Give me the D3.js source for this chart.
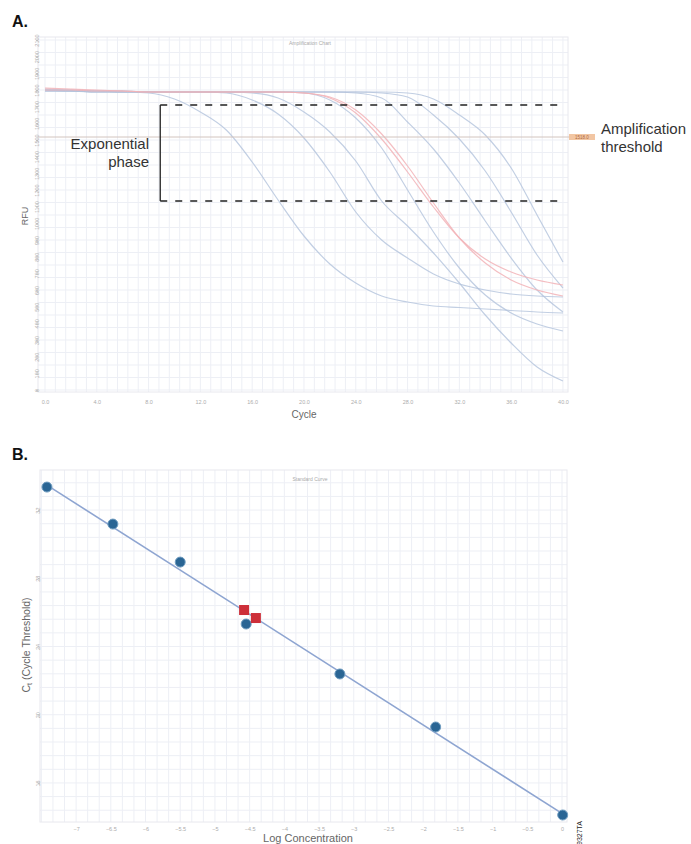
<!DOCTYPE html>
<html>
<head>
<meta charset="utf-8">
<script src="https://cdn.jsdelivr.net/npm/d3@7"></script>
<style>
  body { margin: 0; background: #fff; }
  svg { display: block; font-family: "Liberation Sans", Arial, sans-serif; }
  .axis .tick text { fill: #acacac; font-size: 5.5px; }
  .axis .tick line { stroke: #c8c8c8; }
  .axis .domain { display: none; }
</style>
</head>
<body>
<svg id="chart" width="691" height="844"></svg>
<script>
// ---------- A. amplification curves (RFU read every 2nd cycle) ----------
const cycles = [0, 2, 4, 6, 8, 10, 12, 14, 16, 18, 20, 22, 24, 26, 28, 30, 32, 34, 36, 38, 40];

const std1 = [1800, 1794, 1788, 1788, 1782, 1746, 1668, 1560, 1368, 1140, 924, 756, 642, 564, 528, 504, 495, 486, 477, 468, 462];
const std2 = [1806, 1800, 1794, 1794, 1788, 1788, 1788, 1782, 1740, 1656, 1512, 1308, 1068, 900, 792, 696, 636, 600, 576, 564, 558];
const std3 = [1794, 1794, 1788, 1788, 1788, 1788, 1788, 1788, 1782, 1752, 1668, 1548, 1374, 1134, 984, 822, 642, 450, 282, 138, 54];
const std4 = [1794, 1794, 1788, 1788, 1788, 1788, 1788, 1788, 1788, 1788, 1782, 1740, 1632, 1452, 1200, 948, 732, 570, 462, 396, 354];
const std5 = [1800, 1794, 1794, 1788, 1788, 1788, 1788, 1788, 1788, 1788, 1788, 1788, 1782, 1752, 1608, 1446, 1242, 1014, 792, 600, 468];
const std6 = [1800, 1800, 1794, 1794, 1788, 1788, 1788, 1788, 1788, 1788, 1788, 1788, 1788, 1782, 1758, 1650, 1506, 1314, 1068, 810, 612];
const std7 = [1794, 1794, 1794, 1788, 1788, 1788, 1788, 1788, 1788, 1788, 1788, 1788, 1788, 1788, 1782, 1746, 1650, 1530, 1332, 1050, 768];
const unk1 = [1812, 1806, 1800, 1794, 1788, 1788, 1788, 1788, 1788, 1788, 1782, 1752, 1662, 1506, 1308, 1098, 912, 786, 708, 660, 630];
const unk2 = [1800, 1800, 1794, 1794, 1788, 1788, 1788, 1788, 1788, 1788, 1782, 1758, 1680, 1536, 1344, 1122, 912, 762, 660, 600, 564];

const thresholdRfu = 1518;
const phaseTop = 1710, phaseBottom = 1134, phaseStart = 8.9, phaseEnd = 40.15;

const cycleTicks = [0, 4, 8, 12, 16, 20, 24, 28, 32, 36, 40];
const rfuTicks = [0, 100, 200, 300, 400, 500, 600, 700, 800, 900, 1000, 1100, 1200, 1300, 1400, 1500, 1600, 1700, 1800, 1900, 2000, 2100];

// ---------- B. standard curve ----------
const stdLogConc = [-7.42, -6.47, -5.50, -4.55, -3.20, -1.82, 0.01];
const stdCt      = [33.35, 31.18, 28.95, 25.32, 22.39, 19.28, 14.12];
const unkLogConc = [-4.58, -4.41];
const unkCt      = [26.14, 25.67];

const logTicks = [-7, -6.5, -6, -5.5, -5, -4.5, -4, -3.5, -3, -2.5, -2, -1.5, -1, -0.5, 0];
const ctTicks = [16, 20, 24, 28, 32];


const svg = d3.select("#chart");
svg.append("rect").attr("width", 691).attr("height", 844).attr("fill", "#fff");

function panelLetter(txt, y) {
    svg.append("text")
       .attr("x", 12).attr("y", y)
       .attr("font-family", "'Liberation Sans Narrow', 'Arial Narrow', sans-serif")
       .attr("font-weight", "bold").attr("font-size", 16).attr("fill", "#111")
       .text(txt);
}

// ======================= panel A =======================
panelLetter("A.", 26.5);

const xA = d3.scaleLinear().domain([-0.54, 40.39]).range([38, 568]);
const yA = d3.scaleLinear().domain([-12, 2118]).range([392, 37]);
const gA = svg.append("g");

// grid
gA.append("g").selectAll("line")
  .data(d3.range(0, 40.01, 0.8))
  .join("line")
  .attr("x1", d => xA(d)).attr("x2", d => xA(d))
  .attr("y1", yA.range()[1]).attr("y2", yA.range()[0])
  .attr("stroke", "#edeff5");
gA.append("g").selectAll("line")
  .data(d3.range(0, 2118, 75))
  .join("line")
  .attr("x1", xA.range()[0]).attr("x2", xA.range()[1])
  .attr("y1", d => yA(d)).attr("y2", d => yA(d))
  .attr("stroke", "#edeff5");
gA.append("rect")
  .attr("x", 38).attr("y", 37).attr("width", 530).attr("height", 355)
  .attr("fill", "none").attr("stroke", "#e8e8ee");

gA.append("text")
  .attr("x", 310).attr("y", 45).attr("text-anchor", "middle")
  .attr("font-size", 5).attr("fill", "#aaa")
  .text("Amplification Chart");

// axes
gA.append("g").attr("class", "axis")
  .attr("transform", "translate(0," + yA.range()[0] + ")")
  .call(d3.axisBottom(xA).tickValues(cycleTicks).tickSize(0).tickPadding(8).tickFormat(d3.format(".1f")));

const yAxisA = gA.append("g").attr("class", "axis")
  .attr("transform", "translate(" + xA.range()[0] + ",0)")
  .call(d3.axisLeft(yA).tickValues(rfuTicks).tickSize(2).tickFormat(d3.format("d")));
yAxisA.selectAll(".tick text")
  .attr("x", null).attr("dy", null)
  .attr("text-anchor", "middle")
  .attr("transform", "translate(1,0) rotate(-90)");

gA.append("text")
  .attr("transform", "translate(28,216) rotate(-90)")
  .attr("text-anchor", "middle").attr("font-size", 9).attr("fill", "#666")
  .text("RFU");
gA.append("text")
  .attr("x", 304).attr("y", 418).attr("text-anchor", "middle")
  .attr("font-size", 10).attr("fill", "#666")
  .text("Cycle");

// curves
const curveLine = d3.line()
    .x((d, i) => xA(cycles[i]))
    .y(d => yA(d))
    .curve(d3.curveMonotoneX);

const blueRuns = [std1, std2, std3, std4, std5, std6, std7];
const redRuns = [unk1, unk2];

gA.append("g").selectAll("path")
  .data(blueRuns)
  .join("path")
  .attr("d", curveLine)
  .attr("fill", "none").attr("stroke", "#b3c3dc")
  .attr("stroke-width", 1.2).attr("opacity", 0.8);
gA.append("g").selectAll("path")
  .data(redRuns)
  .join("path")
  .attr("d", curveLine)
  .attr("fill", "none").attr("stroke", "#f2b3b7")
  .attr("stroke-width", 1.2).attr("opacity", 0.85);

// threshold
gA.append("line")
  .attr("x1", xA.range()[0]).attr("x2", 569)
  .attr("y1", yA(thresholdRfu)).attr("y2", yA(thresholdRfu))
  .attr("stroke", "#d2c4be").attr("stroke-width", 1);
gA.append("rect")
  .attr("x", 569).attr("y", yA(thresholdRfu) - 3).attr("width", 26).attr("height", 6)
  .attr("fill", "#f2c6a3");
gA.append("text")
  .attr("x", 582).attr("y", yA(thresholdRfu) + 1.8).attr("text-anchor", "middle")
  .attr("font-size", 4.5).attr("fill", "#b0683e")
  .text(thresholdRfu.toFixed(1));

// exponential phase bracket
const ann = gA.append("g").attr("stroke", "#222").attr("stroke-width", 1.3).attr("fill", "none");
[phaseTop, phaseBottom].forEach(v => {
    ann.append("line")
       .attr("x1", xA(phaseStart)).attr("x2", xA(phaseEnd))
       .attr("y1", yA(v)).attr("y2", yA(v))
       .attr("stroke-dasharray", "7,8");
});
ann.append("line")
   .attr("x1", xA(phaseStart)).attr("x2", xA(phaseStart))
   .attr("y1", yA(phaseTop)).attr("y2", yA(phaseBottom));

const noteFont = 15;
gA.append("text")
  .attr("x", 149).attr("y", 149).attr("text-anchor", "end")
  .attr("font-size", noteFont).attr("fill", "#333")
  .text("Exponential");
gA.append("text")
  .attr("x", 149).attr("y", 167).attr("text-anchor", "end")
  .attr("font-size", noteFont).attr("fill", "#333")
  .text("phase");
gA.append("text")
  .attr("x", 601).attr("y", 134)
  .attr("font-size", noteFont).attr("fill", "#333")
  .text("Amplification");
gA.append("text")
  .attr("x", 601).attr("y", 152)
  .attr("font-size", noteFont).attr("fill", "#333")
  .text("threshold");


// ======================= panel B =======================
panelLetter("B.", 460);

const xB = d3.scaleLinear().domain([-7.52, 0.072]).range([40, 567]);
const yB = d3.scaleLinear().domain([13.71, 34.35]).range([822, 470]);
const gB = svg.append("g");

gB.append("g").selectAll("line")
  .data(d3.range(-45, 1).map(k => k / 6))
  .join("line")
  .attr("x1", d => xB(d)).attr("x2", d => xB(d))
  .attr("y1", yB.range()[1]).attr("y2", yB.range()[0])
  .attr("stroke", "#edeff5");
gB.append("g").selectAll("line")
  .data(d3.range(14.4, 34.35, 0.8))
  .join("line")
  .attr("x1", xB.range()[0]).attr("x2", xB.range()[1])
  .attr("y1", d => yB(d)).attr("y2", d => yB(d))
  .attr("stroke", "#edeff5");
gB.append("rect")
  .attr("x", 40).attr("y", 470).attr("width", 527).attr("height", 352)
  .attr("fill", "none").attr("stroke", "#e8e8ee");

gB.append("text")
  .attr("x", 310).attr("y", 481).attr("text-anchor", "middle")
  .attr("font-size", 5).attr("fill", "#aaa")
  .text("Standard Curve");

gB.append("g").attr("class", "axis")
  .attr("transform", "translate(0," + yB.range()[0] + ")")
  .call(d3.axisBottom(xB).tickValues(logTicks).tickSize(0).tickPadding(5)
        .tickFormat(d => Number.isInteger(d) ? d3.format("d")(d) : d3.format(".1f")(d)));

const yAxisB = gB.append("g").attr("class", "axis")
  .attr("transform", "translate(" + xB.range()[0] + ",0)")
  .call(d3.axisLeft(yB).tickValues(ctTicks).tickSize(2));
yAxisB.selectAll(".tick text")
  .attr("x", null).attr("dy", null)
  .attr("text-anchor", "middle")
  .attr("transform", "translate(0,0) rotate(-90)");

const ctLabel = gB.append("text")
  .attr("transform", "translate(30,645) rotate(-90)")
  .attr("text-anchor", "middle").attr("font-size", 10.5).attr("fill", "#666");
ctLabel.append("tspan").text("C");
ctLabel.append("tspan").attr("font-size", 7).attr("dy", 2).text("t");
ctLabel.append("tspan").attr("dy", -2).text(" (Cycle Threshold)");

gB.append("text")
  .attr("x", 308).attr("y", 842).attr("text-anchor", "middle")
  .attr("font-size", 11).attr("fill", "#666")
  .text("Log Concentration");

// regression line through the standards
const mx = d3.mean(stdLogConc), my = d3.mean(stdCt);
const slope = d3.sum(stdLogConc, (x, i) => (x - mx) * (stdCt[i] - my)) /
              d3.sum(stdLogConc, x => (x - mx) * (x - mx));
const icpt = my - slope * mx;
const xExt = d3.extent(stdLogConc);

gB.append("path")
  .attr("d", d3.line()(xExt.map(x => [xB(x), yB(icpt + slope * x)])))
  .attr("stroke", "#8ea5d1").attr("stroke-width", 1.6).attr("fill", "none");

// standards
gB.append("g").selectAll("circle")
  .data(stdLogConc)
  .join("circle")
  .attr("cx", d => xB(d))
  .attr("cy", (d, i) => yB(stdCt[i]))
  .attr("r", 5)
  .attr("fill", "#2a6594")
  .attr("stroke", "#6f9cc0").attr("stroke-width", 1);

// unknowns
const sq = 10;
gB.append("g").selectAll("rect")
  .data(unkLogConc)
  .join("rect")
  .attr("x", d => xB(d) - sq / 2)
  .attr("y", (d, i) => yB(unkCt[i]) - sq / 2)
  .attr("width", sq).attr("height", sq)
  .attr("fill", "#cd2f39");

svg.append("text")
  .attr("transform", "translate(582,833) rotate(-90)")
  .attr("text-anchor", "middle").attr("font-size", 7).attr("fill", "#222")
  .text("9327TA");
</script>
</body>
</html>
